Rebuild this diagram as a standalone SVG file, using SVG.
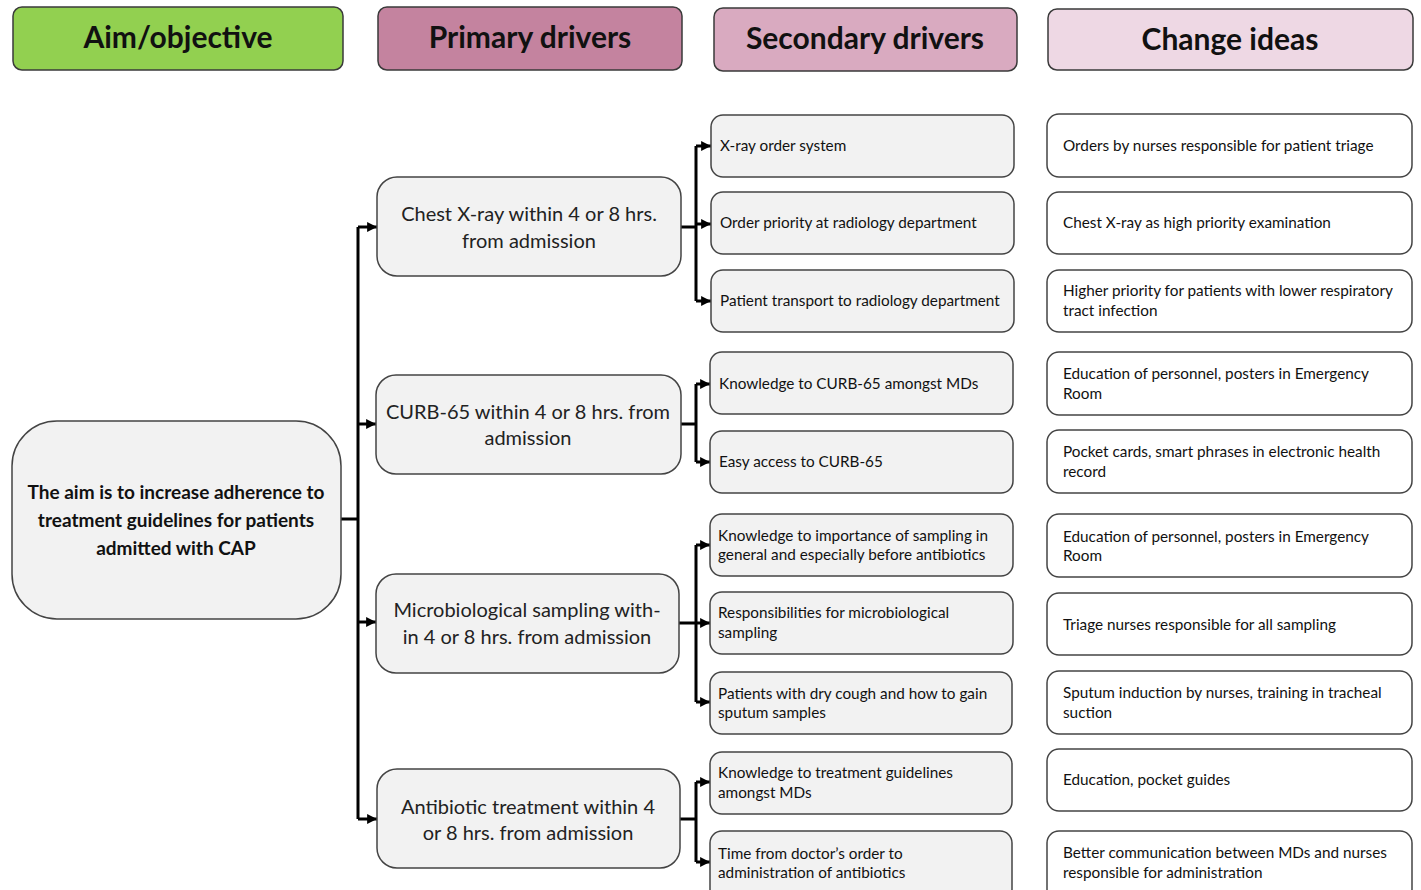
<svg xmlns="http://www.w3.org/2000/svg" width="1421" height="890" viewBox="0 0 1421 890">
<defs>
<marker id="ah" viewBox="0 0 10 10" refX="10" refY="5" markerWidth="3.5" markerHeight="3.3" orient="auto" markerUnits="strokeWidth">
<path d="M0,0 L10,5 L0,10 Z" fill="#000"/>
</marker>
<style>
.hdr{stroke:#3a3a3a;stroke-width:1.5}
.ht{font-family:Lato,"Open Sans",sans-serif;font-weight:bold;font-size:30px;fill:#111;text-anchor:middle}
.gb{fill:#F2F2F2;stroke:#444;stroke-width:1.5}
.wb{fill:#FFFFFF;stroke:#444;stroke-width:1.5}
.at{font-family:Lato,"Open Sans",sans-serif;font-weight:bold;font-size:19px;fill:#111;text-anchor:middle}
.pt{font-family:Lato,"Open Sans",sans-serif;font-size:20px;fill:#222;text-anchor:middle}
.st{font-family:Lato,"Open Sans",sans-serif;font-size:15.3px;fill:#111}
.cn{fill:none;stroke:#000;stroke-width:3}
.ar{fill:none;stroke:#000;stroke-width:3;marker-end:url(#ah)}
</style>
</defs>
<rect width="1421" height="890" fill="#fff"/>

<g id="header-aim"><rect class="hdr" x="13" y="7" width="330" height="63" rx="9" fill="#92D050"/><text class="ht" x="178" y="48">Aim/objective</text></g>
<g id="header-primary"><rect class="hdr" x="378" y="7" width="304" height="63" rx="9" fill="#C4839F"/><text class="ht" x="530" y="48">Primary drivers</text></g>
<g id="header-secondary"><rect class="hdr" x="714" y="8" width="303" height="63" rx="9" fill="#D9AAC0"/><text class="ht" x="865" y="49">Secondary drivers</text></g>
<g id="header-change"><rect class="hdr" x="1048" y="9" width="365" height="61" rx="9" fill="#EED8E4"/><text class="ht" x="1230" y="50">Change ideas</text></g>

<g id="connectors">
<path class="cn" d="M341,519 H358 M358,227 V819"/>
<path class="ar" d="M358,227 H377"/>
<path class="ar" d="M358,424 H376"/>
<path class="ar" d="M358,622 H376"/>
<path class="ar" d="M358,819 H377"/>
<path class="cn" d="M681,227 H696 M696,146 V301"/>
<path class="ar" d="M696,146 H711"/>
<path class="ar" d="M696,224 H711"/>
<path class="ar" d="M696,301 H711"/>
<path class="cn" d="M681,424 H696 M696,384 V462"/>
<path class="ar" d="M696,384 H710"/>
<path class="ar" d="M696,462 H710"/>
<path class="cn" d="M679,623 H696 M696,545 V702"/>
<path class="ar" d="M696,545 H710"/>
<path class="ar" d="M696,623 H710"/>
<path class="ar" d="M696,702 H710"/>
<path class="cn" d="M680,819 H696 M696,782 V862"/>
<path class="ar" d="M696,782 H710"/>
<path class="ar" d="M696,862 H710"/>
</g>

<g id="aim"><rect class="gb" x="12" y="421" width="329" height="198" rx="45"/>
<text class="at" x="176" y="499">The aim is to increase adherence to</text>
<text class="at" x="176" y="527">treatment guidelines for patients</text>
<text class="at" x="176" y="555">admitted with CAP</text></g>

<g id="p1"><rect class="gb" x="377" y="177" width="304" height="99" rx="20"/>
<text class="pt" x="529" y="221">Chest X-ray within 4 or 8 hrs.</text>
<text class="pt" x="529" y="248">from admission</text></g>
<g id="p2"><rect class="gb" x="376" y="375" width="305" height="99" rx="20"/>
<text class="pt" x="528" y="419">CURB-65 within 4 or 8 hrs. from</text>
<text class="pt" x="528" y="445">admission</text></g>
<g id="p3"><rect class="gb" x="376" y="574" width="303" height="99" rx="20"/>
<text class="pt" x="527" y="617">Microbiological sampling with-</text>
<text class="pt" x="527" y="644">in 4 or 8 hrs. from admission</text></g>
<g id="p4"><rect class="gb" x="377" y="769" width="303" height="99" rx="20"/>
<text class="pt" x="528" y="814">Antibiotic treatment within 4</text>
<text class="pt" x="528" y="840">or 8 hrs. from admission</text></g>

<g id="s1"><rect class="gb" x="711" y="115" width="303" height="62" rx="12"/><text class="st" x="720" y="151">X-ray order system</text></g>
<g id="s2"><rect class="gb" x="711" y="192" width="303" height="62" rx="12"/><text class="st" x="720" y="228">Order priority at radiology department</text></g>
<g id="s3"><rect class="gb" x="711" y="270" width="303" height="62" rx="12"/><text class="st" x="720" y="306">Patient transport to radiology department</text></g>
<g id="s4"><rect class="gb" x="710" y="352" width="303" height="62" rx="12"/><text class="st" x="719" y="389">Knowledge to CURB-65 amongst MDs</text></g>
<g id="s5"><rect class="gb" x="710" y="431" width="303" height="62" rx="12"/><text class="st" x="719" y="467">Easy access to CURB-65</text></g>
<g id="s6"><rect class="gb" x="710" y="514" width="303" height="62" rx="12"/><text class="st" x="718" y="541">Knowledge to importance of sampling in</text><text class="st" x="718" y="560">general and especially before antibiotics</text></g>
<g id="s7"><rect class="gb" x="710" y="592" width="303" height="62" rx="12"/><text class="st" x="718" y="618">Responsibilities for microbiological</text><text class="st" x="718" y="638">sampling</text></g>
<g id="s8"><rect class="gb" x="710" y="672" width="302" height="62" rx="12"/><text class="st" x="718" y="699">Patients with dry cough and how to gain</text><text class="st" x="718" y="718">sputum samples</text></g>
<g id="s9"><rect class="gb" x="710" y="752" width="302" height="62" rx="12"/><text class="st" x="718" y="778">Knowledge to treatment guidelines</text><text class="st" x="718" y="798">amongst MDs</text></g>
<g id="s10"><rect class="gb" x="710" y="831" width="302" height="70" rx="12"/><text class="st" x="718" y="859">Time from doctor’s order to</text><text class="st" x="718" y="878">administration of antibiotics</text></g>

<g id="c1"><rect class="wb" x="1047" y="114" width="365" height="63" rx="12"/><text class="st" x="1063" y="151">Orders by nurses responsible for patient triage</text></g>
<g id="c2"><rect class="wb" x="1047" y="192" width="365" height="62" rx="12"/><text class="st" x="1063" y="228">Chest X-ray as high priority examination</text></g>
<g id="c3"><rect class="wb" x="1047" y="270" width="365" height="62" rx="12"/><text class="st" x="1063" y="296">Higher priority for patients with lower respiratory</text><text class="st" x="1063" y="316">tract infection</text></g>
<g id="c4"><rect class="wb" x="1047" y="352" width="365" height="63" rx="12"/><text class="st" x="1063" y="379">Education of personnel, posters in Emergency</text><text class="st" x="1063" y="399">Room</text></g>
<g id="c5"><rect class="wb" x="1047" y="430" width="365" height="63" rx="12"/><text class="st" x="1063" y="457">Pocket cards, smart phrases in electronic health</text><text class="st" x="1063" y="477">record</text></g>
<g id="c6"><rect class="wb" x="1047" y="514" width="365" height="63" rx="12"/><text class="st" x="1063" y="542">Education of personnel, posters in Emergency</text><text class="st" x="1063" y="561">Room</text></g>
<g id="c7"><rect class="wb" x="1047" y="593" width="365" height="62" rx="12"/><text class="st" x="1063" y="630">Triage nurses responsible for all sampling</text></g>
<g id="c8"><rect class="wb" x="1047" y="671" width="365" height="63" rx="12"/><text class="st" x="1063" y="698">Sputum induction by nurses, training in tracheal</text><text class="st" x="1063" y="718">suction</text></g>
<g id="c9"><rect class="wb" x="1047" y="749" width="365" height="62" rx="12"/><text class="st" x="1063" y="785">Education, pocket guides</text></g>
<g id="c10"><rect class="wb" x="1047" y="831" width="365" height="70" rx="12"/><text class="st" x="1063" y="858">Better communication between MDs and nurses</text><text class="st" x="1063" y="878">responsible for administration</text></g>
</svg>
